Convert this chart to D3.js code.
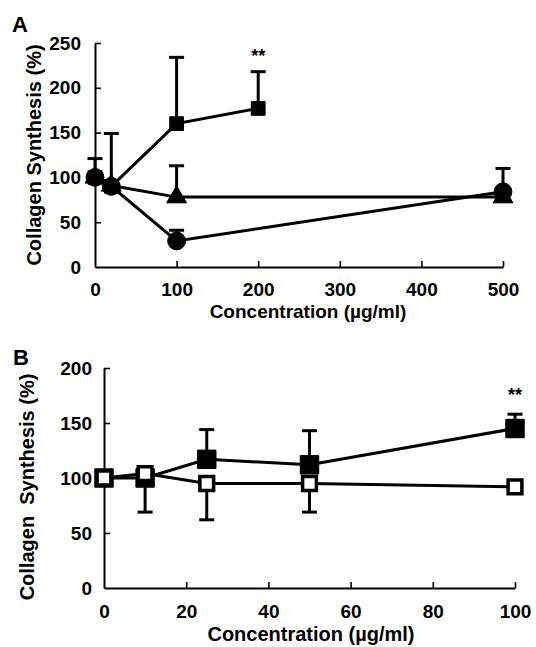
<!DOCTYPE html>
<html>
<head>
<meta charset="utf-8">
<script src="https://cdn.jsdelivr.net/npm/d3@7"></script>
<style>
  body { margin: 0; background: #fff; }
  svg { display: block; }
  text { font-family: "Liberation Sans", Arial, sans-serif; font-weight: bold; fill: #000; }
</style>
</head>
<body>
<div class="box"></div>
<script>
// panel A
const doseA = [0, 20, 100, 200, 500]
const squareA = [100, 90, 160, 177, null]
const squareAErr = [null, 149, 234, 218, null]
const triangleA = [100, 91, 78, null, 78]
const triangleAErr = [null, null, 113, null, null]
const circleA = [100, 90, 29, null, 84]
const circleAErr = [121, null, 41, null, 110]
const ticksAx = [0, 100, 200, 300, 400, 500]
const ticksAy = [0, 50, 100, 150, 200, 250]

// panel B
const doseB = [0, 10, 25, 50, 100]
const filledB = [100, 100, 117, 112, 145]
const filledBErr = [null, null, 144, 143, 158]
const openB = [100, 104, 95, 95, 92]
const openBErr = [null, 69, 62, 69, null]
const ticksBx = [0, 20, 40, 60, 80, 100]
const ticksBy = [0, 50, 100, 150, 200]

const W = 536, H = 647

const svg = d3.select('.box')
    .append('svg')
    .attr('width', W)
    .attr('height', H)

function pts(xs, ys, errs) {
    let out = []
    xs.forEach((x, i) => {
        if (ys[i] != null) out.push({ x: x, y: ys[i], e: errs[i] })
    })
    return out
}

function drawPanel(p) {
    const x = d3.scaleLinear().domain(p.xDomain).range(p.xRange)
    const y = d3.scaleLinear().domain(p.yDomain).range(p.yRange)

    const xAxis = svg.append('g')
        .attr('transform', `translate(0, ${p.yRange[0]})`)
        .call(d3.axisBottom(x).tickValues(p.xTicks).tickSizeInner(-6).tickSizeOuter(0).tickPadding(p.xPad))
    const yAxis = svg.append('g')
        .attr('transform', `translate(${p.xRange[0]}, 0)`)
        .call(d3.axisLeft(y).tickValues(p.yTicks).tickSizeInner(-6).tickSizeOuter(0).tickPadding(p.yPad))

    ;[xAxis, yAxis].forEach(g => {
        g.select('.domain').attr('stroke', '#000').attr('stroke-width', 2)
        g.selectAll('.tick line').attr('stroke', '#000').attr('stroke-width', 1.6)
        g.selectAll('.tick text').style('font-size', '19px').attr('fill', '#000')
    })
    yAxis.selectAll('.tick').filter(d => d === 0).select('line').remove()
    xAxis.selectAll('.tick').filter(d => d === 0).select('line').remove()

    const line = d3.line().x(d => x(d.x)).y(d => y(d.y))

    p.series.forEach(s => {
        svg.append('path')
            .datum(s.data)
            .attr('d', line)
            .attr('fill', 'none')
            .attr('stroke', '#000')
            .attr('stroke-width', 3)
    })

    p.series.forEach(s => {
        const eb = s.data.filter(d => d.e != null)
        const g = svg.append('g')
        g.selectAll('line.bar').data(eb).enter()
            .append('line')
            .attr('x1', d => x(d.x)).attr('x2', d => x(d.x))
            .attr('y1', d => y(d.y)).attr('y2', d => y(d.e))
            .attr('stroke', '#000').attr('stroke-width', 3)
        g.selectAll('line.cap').data(eb).enter()
            .append('line')
            .attr('x1', d => x(d.x) - 7.5).attr('x2', d => x(d.x) + 7.5)
            .attr('y1', d => y(d.e)).attr('y2', d => y(d.e))
            .attr('stroke', '#000').attr('stroke-width', 3)
    })

    p.series.forEach(s => {
        const g = svg.append('g')
        g.selectAll('path').data(s.data).enter()
            .append('path')
            .attr('transform', d => `translate(${x(d.x)}, ${y(d.y)})`)
            .attr('d', d3.symbol().type(s.symbol).size(s.size))
            .attr('fill', s.fill)
            .attr('stroke', '#000')
            .attr('stroke-width', s.stroke)
    })

    svg.append('text')
        .attr('x', x(p.starAt[0]))
        .attr('y', y(p.starAt[1]))
        .attr('text-anchor', 'middle')
        .style('font-size', '18px')
        .text('**')

    svg.append('text')
        .attr('x', p.xLabelPos[0])
        .attr('y', p.xLabelPos[1])
        .attr('text-anchor', 'middle')
        .style('font-size', p.xLabelSize)
        .text('Concentration (µg/ml)')

    svg.append('text')
        .attr('transform', `translate(${p.yLabelPos[0]}, ${p.yLabelPos[1]}) rotate(-90)`)
        .attr('text-anchor', 'middle')
        .style('font-size', p.yLabelSize)
        .style('white-space', 'pre')
        .text(p.yLabel)

    svg.append('text')
        .attr('x', p.letterPos[0])
        .attr('y', p.letterPos[1])
        .style('font-size', '22px')
        .text(p.letter)
}

drawPanel({
    letter: 'A', letterPos: [12, 32],
    xDomain: [0, 500], xRange: [95, 503],
    yDomain: [0, 250], yRange: [267, 43],
    xTicks: ticksAx, yTicks: ticksAy, xPad: 16, yPad: 14,
    xLabelPos: [308, 318], xLabelSize: '19px',
    yLabelPos: [41, 155], yLabelSize: '20px', yLabel: 'Collagen Synthesis (%)',
    starAt: [200, 229],
    series: [
        { data: pts(doseA, squareA, squareAErr), symbol: d3.symbolSquare, size: 190, fill: '#000', stroke: 1 },
        { data: pts(doseA, triangleA, triangleAErr), symbol: d3.symbolTriangle, size: 170, fill: '#000', stroke: 1 },
        { data: pts(doseA, circleA, circleAErr), symbol: d3.symbolCircle, size: 250, fill: '#000', stroke: 1 }
    ]
})

drawPanel({
    letter: 'B', letterPos: [13, 365],
    xDomain: [0, 100], xRange: [104, 515],
    yDomain: [0, 200], yRange: [588, 368],
    xTicks: ticksBx, yTicks: ticksBy, xPad: 17, yPad: 12,
    xLabelPos: [311, 641], xLabelSize: '20px',
    yLabelPos: [34, 487], yLabelSize: '20px', yLabel: 'Collagen  Synthesis (%)',
    starAt: [100, 170],
    series: [
        { data: pts(doseB, filledB, filledBErr), symbol: d3.symbolSquare, size: 340, fill: '#000', stroke: 1 },
        { data: pts(doseB, openB, openBErr), symbol: d3.symbolSquare, size: 190, fill: '#fff', stroke: 3.5 }
    ]
})
</script>
</body>
</html>
